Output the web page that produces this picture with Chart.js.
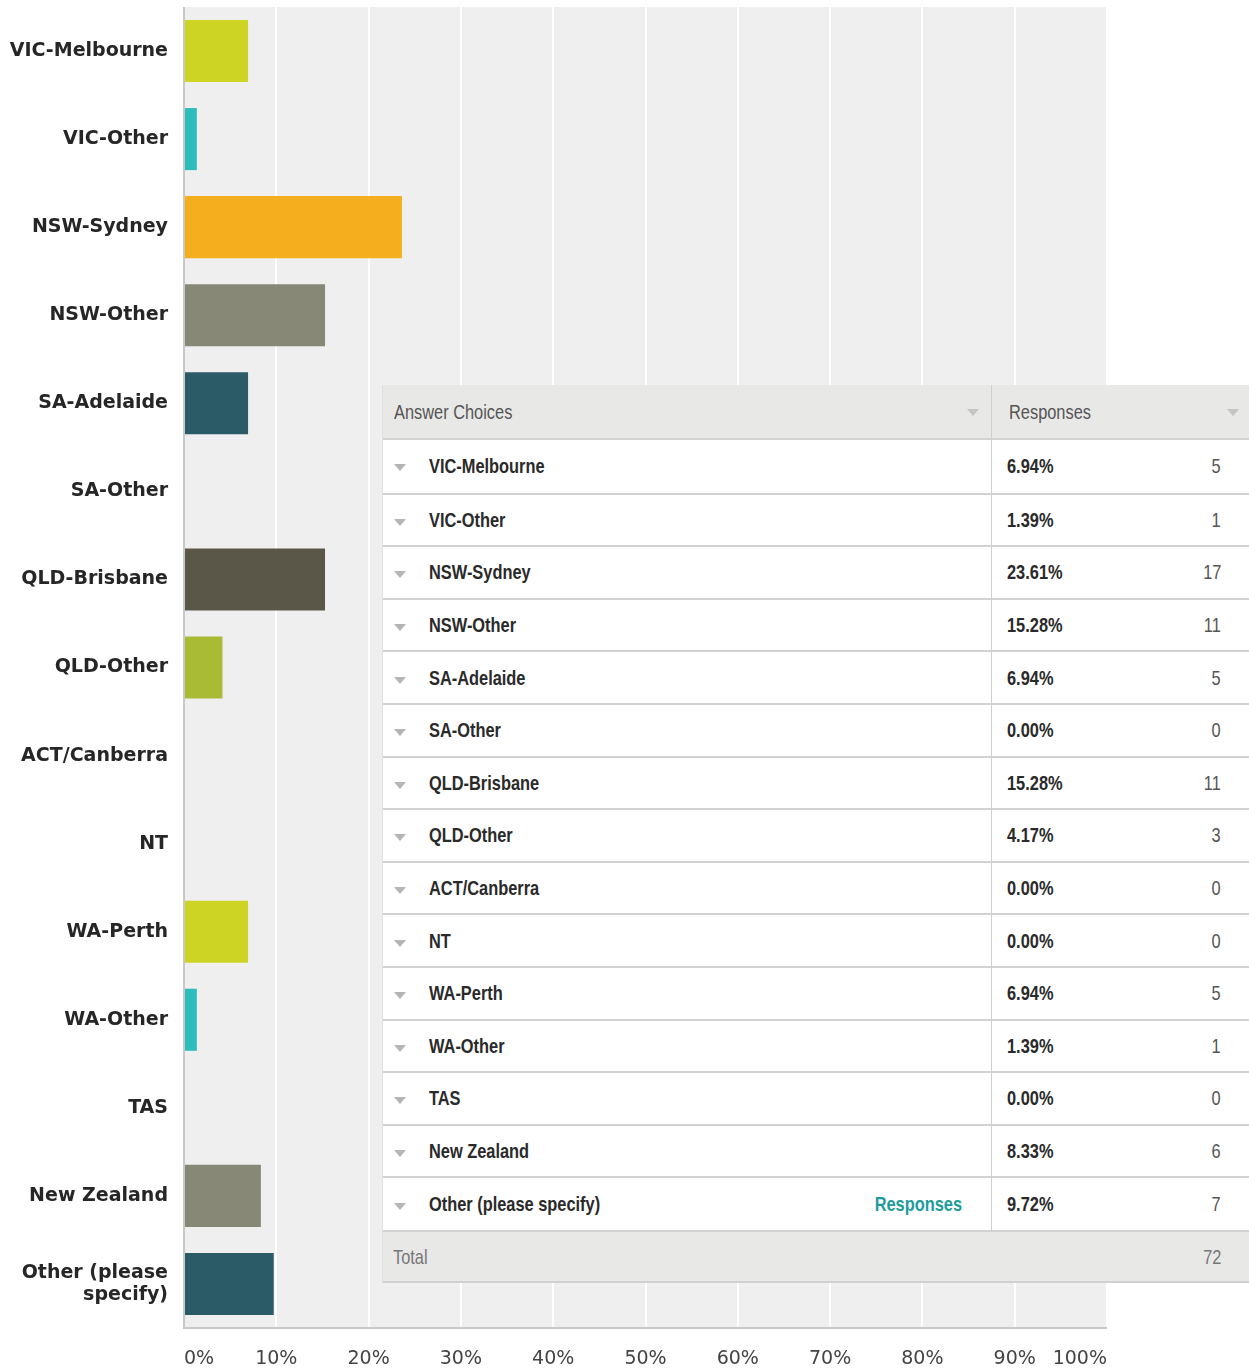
<!DOCTYPE html>
<html>
<head>
<meta charset="utf-8">
<script src="https://cdn.jsdelivr.net/npm/chart.js@4.4.1/dist/chart.umd.min.js"></script>
<style>
  body { margin:0; background:#fff; width:1249px; height:1371px; overflow:hidden; position:relative; }
  #wrap { position:absolute; left:0; top:0; width:1249px; height:1371px; }
  #tbl { position:absolute; left:382px; top:385px; width:867px; height:898px; background:#fff;
         font-family:"Liberation Sans",Arial,sans-serif; font-size:21px; }
  .row { position:absolute; left:0; width:867px; border-top:2px solid #d2d2d2; box-sizing:border-box; }
  .cell { position:absolute; top:0; height:100%; display:flex; align-items:center; white-space:nowrap; }
  .cell span { display:inline-block; transform:scaleX(0.78); transform-origin:left center; }
  .cell.r span { transform-origin:right center; }
  .tri { position:absolute; width:0; height:0; border-left:6px solid transparent; border-right:6px solid transparent; border-top:7px solid #b5b5b5; }
</style>
</head>
<body>
<div id="wrap"><canvas id="myChart" width="1249" height="1371"></canvas></div>
<div id="tbl"></div>
<script>
var categories = ['VIC-Melbourne','VIC-Other','NSW-Sydney','NSW-Other','SA-Adelaide','SA-Other','QLD-Brisbane','QLD-Other','ACT/Canberra','NT','WA-Perth','WA-Other','TAS','New Zealand','Other (please specify)'];
var percents = [6.94,1.39,23.61,15.28,6.94,0,15.28,4.17,0,0,6.94,1.39,0,8.33,9.72];
var counts = [5,1,17,11,5,0,11,3,0,0,5,1,0,6,7];
var total = 72;
var tickLabels = ['0%','10%','20%','30%','40%','50%','60%','70%','80%','90%','100%'];
var palette = ['#cdd424','#2dbdbd','#f5ae1e','#878876','#2c5b68','#6e8b9c','#5a5648','#a9bb35','#d9c27a','#7aa6a6'];

// axis labels, last one wraps on two lines
var axisLabels = categories.map(function(c){ return c == 'Other (please specify)' ? ['Other (please','specify)'] : c; });
var barColors = categories.map(function(c,k){ return palette[k % palette.length]; });

var plotBg = {
  id:'plotBg',
  beforeDraw: function(chart){
    var a = chart.chartArea, ctx = chart.ctx;
    ctx.save();
    ctx.fillStyle = '#efefef';
    ctx.fillRect(a.left, a.top, a.right-a.left, a.bottom-a.top);
    ctx.restore();
  },
  afterDatasetsDraw: function(chart){
    var a = chart.chartArea, ctx = chart.ctx;
    ctx.save();
    ctx.strokeStyle = '#c8c8c8';
    ctx.lineWidth = 2;
    ctx.beginPath();
    ctx.moveTo(a.left, a.top); ctx.lineTo(a.left, a.bottom); ctx.lineTo(a.right, a.bottom);
    ctx.stroke();
    ctx.restore();
  }
};

var ctx = document.getElementById('myChart').getContext('2d');
var chart = new Chart(ctx, {
  type:'bar',
  data:{
    labels: axisLabels,
    datasets:[{ data: percents, backgroundColor: barColors, borderWidth:0, categoryPercentage:0.705, barPercentage:1 }]
  },
  options:{
    indexAxis:'y',
    responsive:false,
    animation:false,
    layout:{ padding:{ top:7, right:142, bottom:0, left:0 } },
    plugins:{ legend:{display:false}, tooltip:{enabled:false} },
    scales:{
      x:{
        min:0, max:100,
        afterFit: function(s){ s.height = 43; s.paddingLeft = 0; s.paddingRight = 0; },
        grid:{ color:'#ffffff', lineWidth:2, drawTicks:false },
        border:{ display:false },
        ticks:{ stepSize:10, align:'inner', padding:20, color:'#444', font:{ family:'DejaVu Sans', size:19 },
                callback:function(v,k){ return tickLabels[k]; } }
      },
      y:{
        afterFit: function(s){ s.width = 184; s.paddingTop = 0; s.paddingBottom = 0; },
        grid:{ display:false },
        border:{ display:false },
        ticks:{ padding:8, color:'#262626', font:{ family:'DejaVu Sans', size:19, weight:'bold', lineHeight:1.2 } }
      }
    }
  },
  plugins:[plotBg]
});

// table overlay
var tbl = document.getElementById('tbl');
function el(cls, style, txt){
  var d = document.createElement('div'); d.className = cls; d.style.cssText = style;
  if(txt!=null){ var s = document.createElement('span'); s.textContent = txt; d.appendChild(s); }
  return d;
}

var head = el('row', 'top:0;height:55px;background:#e8e8e7;border-top:none;border-bottom:2px solid #d2d2d2;');
head.appendChild(el('cell', 'left:12px;color:#555;', 'Answer Choices'));
head.appendChild(el('cell', 'left:627px;color:#555;', 'Responses'));
head.appendChild(el('tri', 'left:585px;top:24px;border-top-color:#c4c4c4;'));
head.appendChild(el('tri', 'left:845px;top:24px;border-top-color:#c4c4c4;'));
tbl.appendChild(head);

var rowH = 52.6;
for(var k=0;k<categories.length;k++){
  var r = el('row', 'top:'+(55+k*rowH)+'px;height:'+rowH+'px;' + (k==0 ? 'border-top:none;' : ''));
  r.appendChild(el('tri', 'left:12px;top:'+(rowH/2-2)+'px;'));
  r.appendChild(el('cell', 'left:47px;color:#2a2a2a;font-weight:bold;', categories[k]));
  if(categories[k]=='Other (please specify)')
    r.appendChild(el('cell r', 'right:287px;color:#1e9c9c;font-weight:bold;', 'Responses'));
  r.appendChild(el('cell', 'left:625px;color:#2a2a2a;font-weight:bold;', percents[k].toFixed(2)+'%'));
  r.appendChild(el('cell r', 'right:28px;color:#555;', String(counts[k])));
  tbl.appendChild(r);
}
var tot = el('row', 'top:845px;height:53px;background:#e8e8e7;border-bottom:2px solid #d0d0d0;');
tot.appendChild(el('cell', 'left:11px;color:#777;', 'Total'));
tot.appendChild(el('cell r', 'right:28px;color:#777;', String(total)));
tbl.appendChild(tot);
// column divider and left edge
tbl.appendChild(el('', 'position:absolute;left:609px;top:0;width:1px;height:845px;background:#cfcfcf;'));
tbl.appendChild(el('', 'position:absolute;left:0;top:0;width:1px;height:898px;background:#e0e0e0;'));
</script>
</body>
</html>
